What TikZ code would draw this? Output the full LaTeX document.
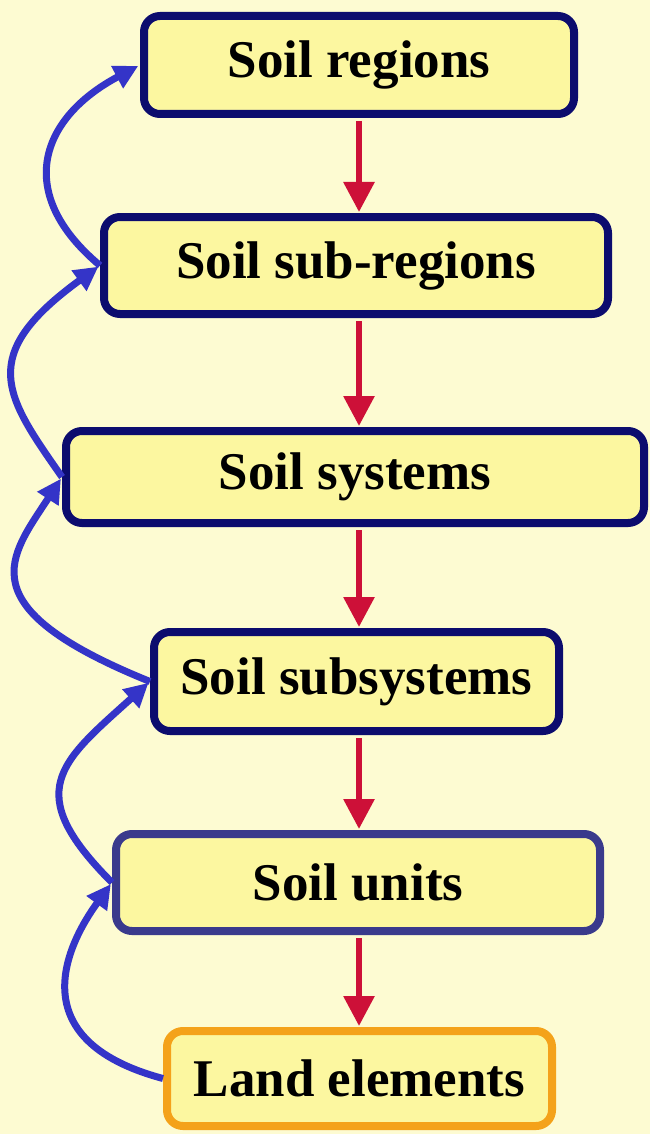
\documentclass[tikz,border=0pt]{standalone}
\usepackage{fontspec}
\setmainfont{Liberation Serif}
\usetikzlibrary{arrows.meta}
\definecolor{bgc}{RGB}{253,251,210}
\definecolor{boxfill}{RGB}{252,247,160}
\definecolor{navy}{RGB}{12,12,110}
\definecolor{slate}{RGB}{58,58,140}
\definecolor{orng}{RGB}{244,162,26}
\definecolor{redarr}{RGB}{205,16,56}
\definecolor{bluearr}{RGB}{52,52,200}
\tikzset{
  levelbox/.style={draw=navy, line width=8pt, fill=boxfill, rounded corners=16pt,
    inner sep=0pt, font=\fontsize{53}{60}\selectfont\bfseries},
  downarr/.style={draw=redarr, line width=6pt, -{Triangle[length=30pt,width=30pt]}, shorten <=3pt, shorten >=1pt},
  uparr/.style={draw=bluearr, line width=7pt, -{Triangle[length=24pt,width=24pt]}, shorten >=2pt}
}
\begin{document}
\begin{tikzpicture}[x=1pt,y=-1pt]
\fill[bgc] (0,0) rectangle (650,1134);
\useasboundingbox (0,0) rectangle (650,1134);
\node[levelbox, minimum width=430pt, minimum height=98pt] (n1) at (359,65) {Soil regions};
\node[levelbox, minimum width=504pt, minimum height=97pt] (n2) at (356,265.5) {Soil sub-regions};
\node[levelbox, minimum width=578pt, minimum height=92pt] (n3) at (355,477) {Soil systems};
\node[levelbox, minimum width=405pt, minimum height=99pt] (n4) at (356.5,681.5) {Soil subsystems};
\node[levelbox, draw=slate, minimum width=484pt, minimum height=97pt] (n5) at (358,882.5) {Soil units};
\node[levelbox, draw=orng, minimum width=385pt, minimum height=95pt] (n6) at (359.5,1078.5) {Land elements};
\draw[downarr] (n1.south -| 359,0) -- (n2.north -| 359,0);
\draw[downarr] (n2.south -| 359,0) -- (n3.north -| 359,0);
\draw[downarr] (n3.south -| 359,0) -- (n4.north -| 359,0);
\draw[downarr] (n4.south -| 359,0) -- (n5.north -| 359,0);
\draw[downarr] (n5.south -| 359,0) -- (n6.north -| 359,0);
\draw[uparr] (n2.west) to[out=140, in=-152, out distance=113pt, in distance=113pt] (n1.west);
\draw[uparr] (n3.west) to[out=125, in=-144, out distance=100pt, in distance=153pt] (n2.west);
\draw[uparr] (n4.west) to[out=158, in=-123, out distance=200pt, in distance=95pt] (n3.west);
\draw[uparr] (n5.west) to[out=135, in=-138, out distance=129pt, in distance=121pt] (n4.west);
\draw[uparr] (n6.west) to[out=165, in=-126, out distance=150pt, in distance=75pt] (n5.west);
\end{tikzpicture}
\end{document}
